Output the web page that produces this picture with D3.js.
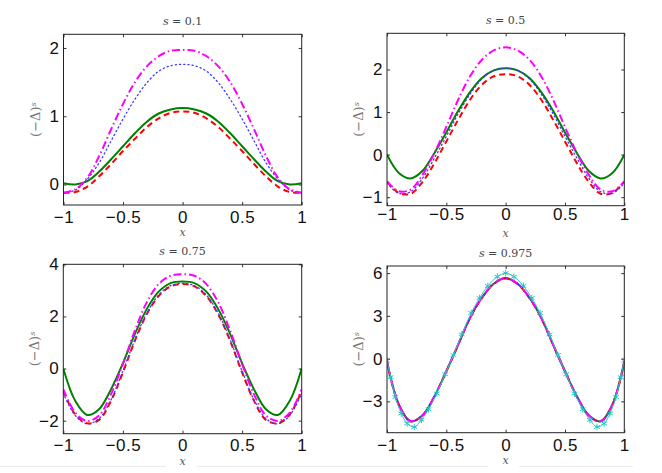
<!DOCTYPE html>
<html>
<head>
<meta charset="utf-8">
<script src="https://cdn.jsdelivr.net/npm/d3@7"></script>
<style>
  body { margin: 0; background: #fff; }
  svg { display: block; }
</style>
</head>
<body>
<svg id="chart" width="662" height="473"></svg>
<script>
// x sample points (every 0.1)
const xGrid = [-1, -0.9, -0.8, -0.7, -0.6, -0.5, -0.4, -0.3, -0.2, -0.1, 0, 0.1, 0.2, 0.3, 0.4, 0.5, 0.6, 0.7, 0.8, 0.9, 1];
const xTicks = [-1, -0.5, 0, 0.5, 1];

// s = 0.1
const s01Green = [0.02, 0.0, 0.05, 0.19, 0.37, 0.56, 0.75, 0.92, 1.04, 1.10, 1.12, 1.10, 1.04, 0.92, 0.75, 0.56, 0.37, 0.19, 0.05, 0.0, 0.02];
const s01Red = [-0.12, -0.11, -0.03, 0.12, 0.30, 0.49, 0.67, 0.84, 0.97, 1.05, 1.07, 1.05, 0.97, 0.84, 0.67, 0.49, 0.30, 0.12, -0.03, -0.11, -0.12];
const s01Blue = [-0.12, -0.08, 0.08, 0.32, 0.64, 0.96, 1.25, 1.49, 1.66, 1.74, 1.76, 1.74, 1.66, 1.49, 1.25, 0.96, 0.64, 0.32, 0.08, -0.08, -0.12];
const s01Magenta = [-0.12, -0.07, 0.10, 0.42, 0.81, 1.18, 1.50, 1.73, 1.88, 1.96, 1.97, 1.96, 1.88, 1.73, 1.50, 1.18, 0.81, 0.42, 0.10, -0.07, -0.12];
const s01Ticks = [0, 1, 2];

// s = 0.5
const s05Green = [0.0, -0.43, -0.56, -0.38, 0.04, 0.52, 1.03, 1.47, 1.80, 1.98, 2.03, 1.98, 1.80, 1.47, 1.03, 0.52, 0.04, -0.38, -0.56, -0.43, 0.0];
const s05Red = [-0.63, -0.90, -0.92, -0.64, -0.20, 0.31, 0.82, 1.29, 1.64, 1.84, 1.89, 1.84, 1.64, 1.29, 0.82, 0.31, -0.20, -0.64, -0.92, -0.90, -0.63];
const s05Blue = [-0.67, -0.91, -0.87, -0.55, -0.08, 0.43, 0.96, 1.42, 1.78, 1.98, 2.03, 1.98, 1.78, 1.42, 0.96, 0.43, -0.08, -0.55, -0.87, -0.91, -0.67];
const s05Magenta = [-0.63, -0.86, -0.82, -0.47, 0.04, 0.65, 1.29, 1.84, 2.23, 2.45, 2.52, 2.45, 2.23, 1.84, 1.29, 0.65, 0.04, -0.47, -0.82, -0.86, -0.63];
const s05Ticks = [-1, 0, 1, 2];

// s = 0.75
const s075Green = [0.0, -1.24, -1.78, -1.56, -0.80, 0.20, 1.32, 2.28, 2.95, 3.28, 3.34, 3.28, 2.95, 2.28, 1.32, 0.20, -0.80, -1.56, -1.78, -1.24, 0.0];
const s075Red = [-0.86, -1.76, -2.10, -1.97, -1.24, -0.15, 1.06, 2.08, 2.78, 3.15, 3.24, 3.15, 2.78, 2.08, 1.06, -0.15, -1.24, -1.97, -2.10, -1.76, -0.86];
const s075Blue = [-0.95, -1.80, -2.12, -1.92, -1.20, -0.10, 1.10, 2.12, 2.82, 3.18, 3.27, 3.18, 2.82, 2.12, 1.10, -0.10, -1.20, -1.92, -2.12, -1.80, -0.95];
const s075Magenta = [-0.80, -1.69, -2.01, -1.80, -0.99, 0.17, 1.45, 2.54, 3.24, 3.56, 3.62, 3.56, 3.24, 2.54, 1.45, 0.17, -0.99, -1.80, -2.01, -1.69, -0.80];
const s075Ticks = [-2, 0, 2, 4];

// s = 0.975
const s0975Green = [-0.20, -3.23, -4.40, -3.98, -2.65, -0.89, 0.98, 2.86, 4.27, 5.25, 5.65, 5.25, 4.27, 2.86, 0.98, -0.89, -2.65, -3.98, -4.40, -3.23, -0.20];
const s0975Red = [-0.25, -3.25, -4.40, -3.98, -2.66, -0.90, 0.97, 2.85, 4.26, 5.24, 5.62, 5.24, 4.26, 2.85, 0.97, -0.90, -2.66, -3.98, -4.40, -3.25, -0.25];
const s0975Blue = [-0.22, -3.24, -4.41, -3.98, -2.65, -0.89, 0.98, 2.86, 4.27, 5.25, 5.63, 5.25, 4.27, 2.86, 0.98, -0.89, -2.65, -3.98, -4.41, -3.24, -0.22];
const s0975Magenta = [-0.20, -3.22, -4.39, -3.97, -2.64, -0.88, 0.99, 2.87, 4.28, 5.26, 5.64, 5.26, 4.28, 2.87, 0.99, -0.88, -2.64, -3.97, -4.39, -3.22, -0.20];
const s0975CyanX = [-1, -0.97, -0.93, -0.88, -0.83, -0.77, -0.71, -0.65, -0.58, -0.51, -0.44, -0.37, -0.29, -0.22, -0.15, -0.07, 0, 0.07, 0.15, 0.22, 0.29, 0.37, 0.44, 0.51, 0.58, 0.65, 0.71, 0.77, 0.83, 0.88, 0.93, 0.97, 1];
const s0975CyanY = [-0.15, -1.3, -2.7, -3.85, -4.55, -4.8, -4.3, -3.55, -2.45, -1.1, 0.25, 1.7, 3.2, 4.25, 5.1, 5.75, 6.0, 5.75, 5.1, 4.25, 3.2, 1.7, 0.25, -1.1, -2.45, -3.55, -4.3, -4.8, -4.55, -3.85, -2.7, -1.3, -0.15];
const s0975Ticks = [-3, 0, 3, 6];

const styles = {
  green: { color: "#008000", width: 2, dash: null },
  red: { color: "#ff0000", width: 2, dash: "6,4" },
  blue: { color: "#3a3aff", width: 1.3, dash: "1.2,3" },
  magenta: { color: "#ff00ff", width: 2, dash: "8,3,1.5,3" },
  cyan: { color: "#2cc4c4", width: 1, dash: null }
};

const panels = [
  { title: "0.1", left: 63.5, right: 301.7, top: 34.3, bottom: 205, yDomain: [-0.3, 2.2], yTicks: s01Ticks, pad: 6,
    series: [["green", s01Green], ["red", s01Red], ["blue", s01Blue], ["magenta", s01Magenta]] },
  { title: "0.5", left: 387, right: 624.3, top: 33.3, bottom: 205.7, yDomain: [-1.2, 2.85], yTicks: s05Ticks, pad: 2.5,
    series: [["green", s05Green], ["red", s05Red], ["blue", s05Blue], ["magenta", s05Magenta]] },
  { title: "0.75", left: 63.3, right: 301.7, top: 264.3, bottom: 433.7, yDomain: [-2.5, 4], yTicks: s075Ticks, pad: 5.5,
    series: [["green", s075Green], ["red", s075Red], ["blue", s075Blue], ["magenta", s075Magenta]] },
  { title: "0.975", left: 387, right: 624.3, top: 266, bottom: 432.7, yDomain: [-5.2, 6.5], yTicks: s0975Ticks, pad: 6,
    series: [["green", s0975Green], ["red", s0975Red], ["blue", s0975Blue], ["magenta", s0975Magenta]],
    cyan: true }
];

const svg = d3.select("#chart");
const fmt = d => d3.format("")(d).replace("-", "\u2212");

// faint scan line near the bottom
[[0, 166], [197, 488], [519, 633]].forEach(s => {
  svg.append("line")
    .attr("x1", s[0]).attr("x2", s[1])
    .attr("y1", 466.5).attr("y2", 466.5)
    .attr("stroke", "#ececec").attr("stroke-width", 1);
});

panels.forEach(p => {
  const w = p.right - p.left;
  const h = p.bottom - p.top;
  const g = svg.append("g").attr("transform", `translate(${p.left},${p.top})`);

  const x = d3.scaleLinear().domain([-1, 1]).range([0, w]);
  const y = d3.scaleLinear().domain(p.yDomain).range([h, 0]);

  const line = d3.line()
    .x(d => x(d[0]))
    .y(d => y(d[1]))
    .curve(d3.curveCatmullRom.alpha(0.5));

  const clip = "clip" + p.title.replace(".", "");
  g.append("clipPath").attr("id", clip)
    .append("rect").attr("width", w).attr("height", h);

  const plot = g.append("g").attr("clip-path", `url(#${clip})`);

  p.series.forEach(([key, vals]) => {
    const st = styles[key];
    plot.append("path")
      .datum(xGrid.map((xv, i) => [xv, vals[i]]))
      .attr("d", line)
      .attr("fill", "none")
      .attr("stroke", st.color)
      .attr("stroke-width", st.width)
      .attr("stroke-dasharray", st.dash)
      .attr("stroke-linecap", key === "blue" ? "round" : "butt");
  });

  if (p.cyan) {
    const pts = s0975CyanX.map((xv, i) => [xv, s0975CyanY[i]]);
    plot.append("path")
      .datum(pts)
      .attr("d", line)
      .attr("fill", "none")
      .attr("stroke", styles.cyan.color)
      .attr("stroke-width", styles.cyan.width);
    plot.selectAll(".star")
      .data(pts)
      .join("path")
      .attr("class", "star")
      .attr("transform", d => `translate(${x(d[0])},${y(d[1])})`)
      .attr("d", d3.symbol(d3.symbolAsterisk, 30))
      .attr("fill", "none")
      .attr("stroke", styles.cyan.color)
      .attr("stroke-width", 1);
  }

  // ticks pointing inwards on every side
  g.append("g")
    .attr("transform", `translate(0,${h})`)
    .call(d3.axisBottom(x).tickValues(xTicks).tickSize(-3).tickPadding(p.pad).tickFormat(fmt));
  g.append("g")
    .call(d3.axisTop(x).tickValues(xTicks).tickSize(-3).tickFormat(""));
  g.append("g")
    .call(d3.axisLeft(y).tickValues(p.yTicks).tickSize(-3).tickPadding(4).tickFormat(fmt));
  g.append("g")
    .attr("transform", `translate(${w},0)`)
    .call(d3.axisRight(y).tickValues(p.yTicks).tickSize(-3).tickFormat(""));

  g.selectAll(".domain").remove();
  g.selectAll(".tick line").attr("stroke", "#333");
  g.selectAll(".tick text")
    .attr("fill", "#111")
    .style("font-family", "'Liberation Sans', Arial, sans-serif")
    .style("font-size", "17px")
    .style("letter-spacing", "0.5px");

  g.append("rect")
    .attr("width", w).attr("height", h)
    .attr("fill", "none")
    .attr("stroke", "#222")
    .attr("stroke-width", 1);

  // title
  const title = g.append("text")
    .attr("x", w / 2)
    .attr("y", -9)
    .attr("text-anchor", "middle")
    .attr("fill", "#444")
    .style("font-family", "'DejaVu Serif', 'Liberation Serif', serif")
    .style("font-size", "11px");
  title.append("tspan").style("font-style", "italic").text("s");
  title.append("tspan").text(" = " + p.title);

  // x label
  g.append("text")
    .attr("x", w / 2)
    .attr("y", h + 31)
    .attr("text-anchor", "middle")
    .attr("fill", "#555")
    .style("font-family", "'DejaVu Serif', 'Liberation Serif', serif")
    .style("font-style", "italic")
    .style("font-size", "11px")
    .text("x");

  // y label
  const yl = g.append("text")
    .attr("transform", `translate(${-24},${h / 2}) rotate(-90)`)
    .attr("text-anchor", "middle")
    .attr("fill", "#777")
    .style("font-family", "'DejaVu Serif', 'Liberation Serif', serif")
    .style("font-size", "13px");
  yl.append("tspan").text("(\u2212\u0394)");
  yl.append("tspan")
    .attr("dy", "-0.5em")
    .style("font-size", "8px")
    .style("font-style", "italic")
    .text("s");
});
</script>
</body>
</html>
